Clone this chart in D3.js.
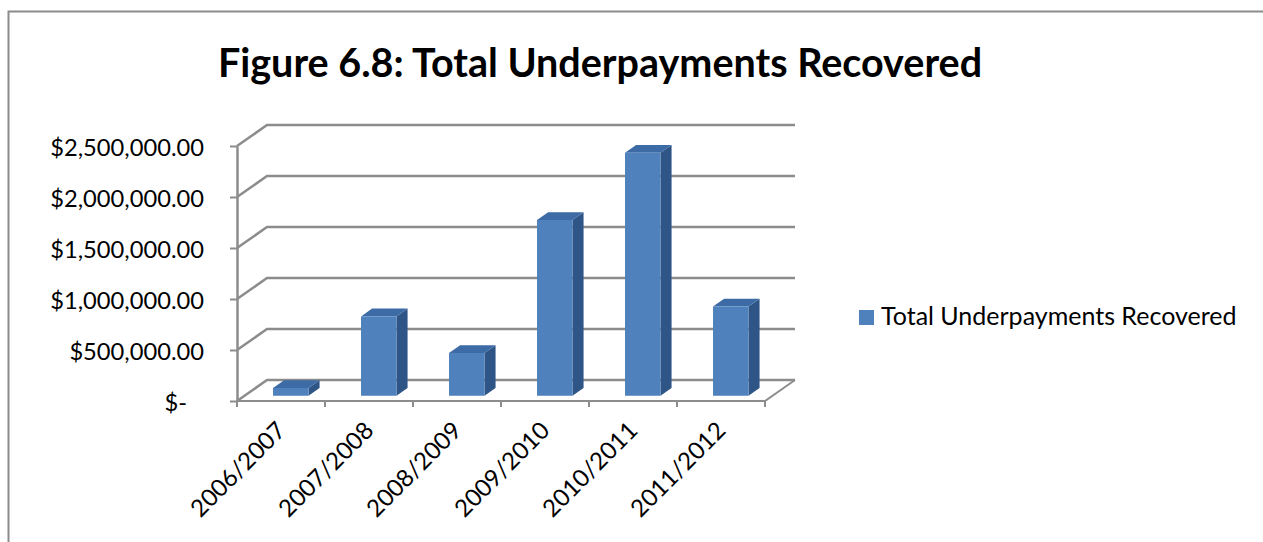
<!DOCTYPE html>
<html><head><meta charset="utf-8">
<script src="https://cdn.jsdelivr.net/npm/d3@7"></script>
<style>
html,body{margin:0;padding:0;background:#fff;overflow:hidden}
text{font-family:Lato,"Liberation Sans",sans-serif;fill:#000}
</style></head><body>
<svg id="chart" width="1263" height="542"></svg>
<script>
// Data
const categories = ["2006/2007", "2007/2008", "2008/2009", "2009/2010", "2010/2011", "2011/2012"];
const recovered = [75000, 778000, 420000, 1722000, 2383000, 875000];
const yTickValues = [0, 500000, 1000000, 1500000, 2000000, 2500000];
const yTickLabels = ["$-", "$500,000.00", "$1,000,000.00", "$1,500,000.00", "$2,000,000.00", "$2,500,000.00"];
const seriesName = "Total Underpayments Recovered";
const chartTitle = "Figure 6.8: Total Underpayments Recovered";

const svg = d3.select("#chart");
const gridColor = "#8c8c8c";

// outer frame (top and left edges)
svg.append("path").attr("d", "M8.5,542 V11.5 H1263")
  .attr("fill", "none").attr("stroke", gridColor).attr("stroke-width", 2);

// Scales: front plane of the 3D box
const x = d3.scaleBand().domain(categories).range([237, 765]).padding(0);
const y = d3.scaleLinear().domain([0, 2500000]).range([401, 146]);
const DX = 30, DY = 21;                       // depth offset to the back wall
const P = (px, v, z) => [px + z * DX, y(v) - z * DY];
const line = d3.line();
const xL = x.range()[0], xR = x.range()[1];

// Title
svg.append("text").attr("x", 600).attr("y", 77).attr("text-anchor", "middle")
  .attr("font-weight", "bold").attr("font-size", 39.5).text(chartTitle);

// Side-wall + back-wall gridlines
const grid = svg.append("g").attr("fill", "none").attr("stroke", gridColor).attr("stroke-width", 2.5);
yTickValues.forEach(t => {
  grid.append("path").attr("d", line([P(xL, t, 0), P(xL, t, 1), P(xR, t, 1)]));
});
// floor front and right edges
grid.append("path").attr("stroke-width", 2)
  .attr("d", line([P(xL, 0, 0), P(xR, 0, 0), P(xR, 0, 1)]));

// Value axis
const yAxis = d3.axisLeft(y).tickValues(yTickValues)
  .tickFormat((d, i) => yTickLabels[i]).tickSize(7).tickSizeOuter(0).tickPadding(26);
const gy = svg.append("g").attr("transform", `translate(${xL},0)`).call(yAxis);
gy.select(".domain").attr("stroke", gridColor).attr("stroke-width", 2.5);
gy.selectAll(".tick line").attr("stroke", gridColor).attr("stroke-width", 2);
gy.selectAll(".tick text").attr("font-size", 23.7).attr("font-family", "Lato").attr("fill", "#000")
  .attr("dy", "0.4em")
  .attr("dx", d => d === 0 ? -17 : 0);

// Category ticks on the floor front edge
const edges = categories.map(c => x(c)).concat([xR]);
svg.append("g").selectAll("line").data(edges).join("line")
  .attr("x1", d => d).attr("x2", d => d).attr("y1", y(0)).attr("y2", y(0) + 6)
  .attr("stroke", gridColor).attr("stroke-width", 2);

// Category labels (rotated)
const bw = x.bandwidth();
svg.append("g").selectAll("text").data(categories).join("text")
  .attr("transform", d => `translate(${x(d) + bw / 2 + 6},432) rotate(-45)`)
  .attr("text-anchor", "end").attr("font-size", 24).text(d => d);

// 3D columns
const z0 = 0.25, z1 = 0.62;
const colors = {front: "#4f81bd", top: "#3c6ba5", side: "#2f5486"};
const bars = svg.append("g");
categories.forEach((c, i) => {
  const v = recovered[i];
  const bx = x(c) + bw * 0.324, w = bw * 0.403;
  const g = bars.append("g");
  g.append("path").attr("fill", colors.side)
    .attr("d", line([P(bx + w, 0, z0), P(bx + w, 0, z1), P(bx + w, v, z1), P(bx + w, v, z0)]) + "Z");
  g.append("path").attr("fill", colors.top)
    .attr("d", line([P(bx, v, z0), P(bx + w, v, z0), P(bx + w, v, z1), P(bx, v, z1)]) + "Z");
  g.append("path").attr("fill", colors.front)
    .attr("d", line([P(bx, 0, z0), P(bx + w, 0, z0), P(bx + w, v, z0), P(bx, v, z0)]) + "Z");
});

// Legend
const lg = svg.append("g").attr("transform", "translate(859,310)");
lg.append("rect").attr("width", 15).attr("height", 15).attr("fill", colors.front);
lg.append("text").attr("x", 22).attr("y", 15).attr("font-size", 25).text(seriesName);
</script>
</body></html>
